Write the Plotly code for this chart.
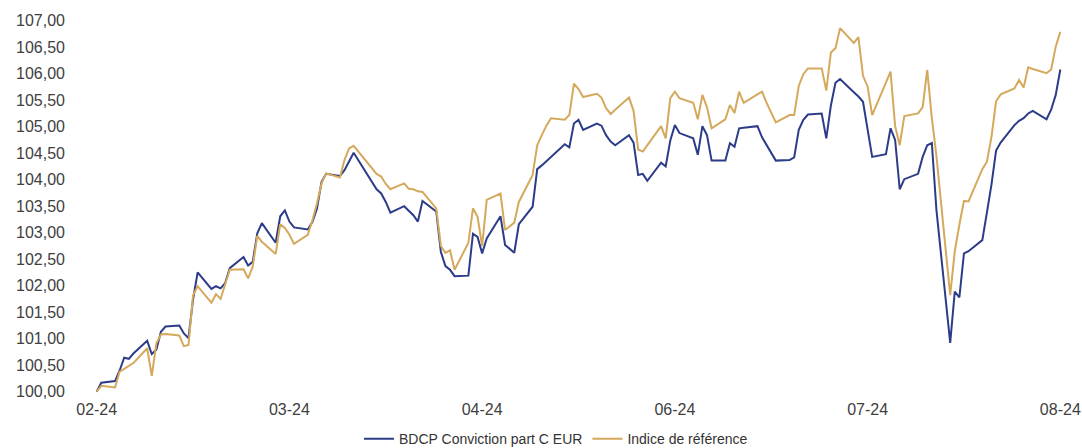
import pandas as pd
import plotly.graph_objects as go

# Business days (Euronext holidays removed)
HOLIDAYS = ["2024-03-29", "2024-04-01", "2024-05-01"]
DATES = [d for d in pd.bdate_range("2024-02-01", "2024-08-29")
         if d.strftime("%Y-%m-%d") not in HOLIDAYS]

FUND_NAME = "BDCP Conviction part C EUR"
INDEX_NAME = "Indice de référence"

# one row per week
FUND = [
    100.00, 100.17,
    100.20, 100.40, 100.64, 100.62, 100.72,
    100.96, 100.71, 100.79, 101.13, 101.23,
    101.25, 101.10, 101.01, 101.74, 102.25,
    101.94, 101.99, 101.95, 102.05, 102.33,
    102.54, 102.38, 102.45, 102.99, 103.18,
    102.81, 103.31, 103.42, 103.21, 103.10,
    103.06, 103.20, 103.45, 103.96, 104.11,
    104.07, 104.18, 104.35, 104.51,
    103.82, 103.74, 103.58, 103.38,
    103.50, 103.42, 103.33, 103.21, 103.60,
    103.40, 102.64, 102.37, 102.30, 102.18,
    102.19, 102.98, 102.92, 102.61, 102.89,
    103.31, 102.77, 102.62, 103.16,
    103.49, 104.20, 104.27, 104.35, 104.42,
    104.67, 104.61, 105.06, 105.13, 104.94,
    105.06, 105.02, 104.84, 104.72, 104.65,
    104.84, 104.70, 104.09, 104.11, 103.98,
    104.32, 104.25, 104.74, 105.03, 104.88,
    104.78, 104.47, 105.01, 104.84, 104.36,
    104.36, 104.69, 104.62, 104.97, 104.98,
    105.01, 104.80, 104.66, 104.52, 104.36,
    104.37, 104.42, 104.94, 105.13, 105.23,
    105.25, 104.78, 105.40, 105.83, 105.90,
    105.65, 105.57, 105.47, 104.96, 104.43,
    104.48, 104.97, 104.75, 103.82, 104.01,
    104.11, 104.43, 104.65, 104.69, 103.43,
    100.92, 101.89, 101.78, 102.61, 102.65,
    102.86, 103.38, 103.91, 104.55, 104.70,
    105.03, 105.11, 105.16, 105.25, 105.30,
    105.14, 105.32, 105.60, 106.08,
]

INDEX = [
    100.00, 100.11,
    100.08, 100.38, 100.43, 100.48, 100.54,
    100.82, 100.30, 100.91, 101.08, 101.09,
    101.06, 100.86, 100.88, 101.82, 101.99,
    101.68, 101.84, 101.75, 102.01, 102.30,
    102.31, 102.14, 102.36, 102.94, 102.83,
    102.60, 103.16, 103.09, 102.96, 102.79,
    102.96, 103.23, 103.55, 103.93, 104.12,
    104.04, 104.37, 104.59, 104.64,
    104.11, 104.06, 103.92, 103.82,
    103.93, 103.83, 103.82, 103.78, 103.77,
    103.46, 102.75, 102.62, 102.67, 102.30,
    102.81, 103.46, 103.30, 102.75, 103.62,
    103.74, 103.05, 103.19, 103.58,
    104.09, 104.65, 104.84, 105.02, 105.16,
    105.13, 105.22, 105.81, 105.71, 105.56,
    105.62, 105.55, 105.35, 105.24, 105.32,
    105.55, 105.30, 104.57, 104.53, 104.65,
    105.01, 104.78, 105.54, 105.66, 105.54,
    105.45, 105.14, 105.60, 105.37, 104.97,
    105.14, 105.41, 105.26, 105.66, 105.45,
    105.61, 105.66, 105.45, 105.26, 105.08,
    105.22, 105.22, 105.77, 105.99, 106.10,
    106.10, 105.68, 106.40, 106.48, 106.86,
    106.58, 106.69, 105.96, 105.76, 105.22,
    105.85, 106.04, 105.01, 104.65, 105.20,
    105.25, 105.37, 106.07, 105.16, 104.45,
    101.82, 102.65, 103.15, 103.60, 103.59,
    104.20, 104.34, 104.81, 105.48, 105.61,
    105.72, 105.88, 105.74, 106.12, 106.09,
    106.01, 106.08, 106.51, 106.79,
]

TICK_DATES = ["2024-02-01", "2024-03-14", "2024-04-25",
              "2024-06-06", "2024-07-18", "2024-08-29"]
TICK_LABELS = ["02-24", "03-24", "04-24", "06-24", "07-24", "08-24"]
Y_TICKS = [100.0, 100.5, 101.0, 101.5, 102.0, 102.5, 103.0, 103.5,
           104.0, 104.5, 105.0, 105.5, 106.0, 106.5, 107.0]

assert len(FUND) == len(DATES) == len(INDEX)

NAVY = "#2c3c88"
GOLD = "#d5a95c"
FONT = "Liberation Sans, Arial, sans-serif"

fig = go.Figure()
fig.add_trace(go.Scatter(x=DATES, y=FUND, name=FUND_NAME, mode="lines",
                         line=dict(color=NAVY, width=2)))
fig.add_trace(go.Scatter(x=DATES, y=INDEX, name=INDEX_NAME, mode="lines",
                         line=dict(color=GOLD, width=2)))

fig.update_layout(
    width=1082, height=448,
    margin=dict(l=72, r=12, t=10, b=50, autoexpand=False),
    paper_bgcolor="white", plot_bgcolor="white",
    separators=", ",
    font=dict(family=FONT, color="#333333"),
    showlegend=True,
    legend=dict(orientation="h", x=0.485, xanchor="center",
                y=-0.106, yanchor="middle",
                font=dict(size=14, color="#333333"),
                bgcolor="rgba(0,0,0,0)"),
)
fig.update_xaxes(type="date", automargin=False,
                 range=["2024-01-26 14:52", "2024-08-31 02:38"],
                 tickmode="array", tickvals=TICK_DATES, ticktext=TICK_LABELS,
                 showgrid=False, zeroline=False, showline=False, ticks="",
                 tickfont=dict(size=16, color="#404040"))
fig.update_yaxes(range=[99.881, 107.202], automargin=False,
                 tickmode="array", tickvals=Y_TICKS, tickformat=".2f",
                 ticklabelstandoff=6,
                 showgrid=False, zeroline=False, showline=False, ticks="",
                 tickfont=dict(size=16, color="#404040"))

fig.write_html(
    "out.html",
    config={"displayModeBar": False},
    post_script="document.body.style.margin='0';document.body.style.overflow='hidden';",
)
